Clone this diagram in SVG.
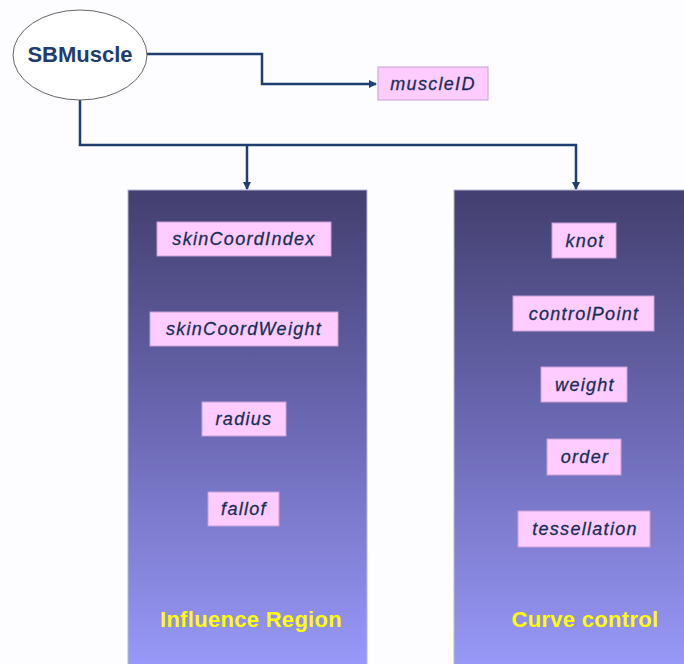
<svg xmlns="http://www.w3.org/2000/svg" width="684" height="664" viewBox="0 0 684 664">
<defs>
<linearGradient id="pg" x1="0" y1="0" x2="0" y2="1">
<stop offset="0" stop-color="#433f6f"/>
<stop offset="0.45" stop-color="#6765ad"/>
<stop offset="1" stop-color="#9999fa"/>
</linearGradient>
<marker id="arr" markerWidth="8" markerHeight="8" refX="7" refY="4" orient="auto" markerUnits="userSpaceOnUse">
<path d="M0,0 L8,4 L0,8 Z" fill="#1f3d6e"/>
</marker>
</defs>
<style>
.panel{fill:url(#pg);stroke:#b8b8d8;stroke-width:1}
.box{fill:#ffccff;stroke:#c8a0d8;stroke-width:1}
.lbl{font-family:"Liberation Sans",Arial,sans-serif;font-size:18px;font-style:italic;fill:#172f5a;stroke:#172f5a;stroke-width:0.3;text-anchor:middle;letter-spacing:1.3px}
.title{font-family:"Liberation Sans",Arial,sans-serif;font-size:22px;font-weight:bold;fill:#ffff00;text-anchor:middle;letter-spacing:0.3px}
.conn{fill:none;stroke:#1f3d6e;stroke-width:2.5}
</style>
<rect width="684" height="664" fill="#fdfdff"/>
<g id="influence-region">
<rect class="panel" x="128" y="190" width="239" height="480"/>
<text class="title" x="251" y="627">Influence Region</text>
</g>
<g id="curve-control">
<rect class="panel" x="454" y="190" width="240" height="480"/>
<text class="title" x="585" y="627">Curve control</text>
</g>
<g id="connectors">
<path class="conn" d="M147,54 H262 V84 H376" marker-end="url(#arr)"/>
<path class="conn" d="M80,99 V145 H576 V189" marker-end="url(#arr)"/>
<path class="conn" d="M247,145 V189" marker-end="url(#arr)"/>
</g>
<g id="sbmuscle">
<ellipse cx="80" cy="55" rx="67" ry="45" fill="#ffffff" stroke="#666" stroke-width="1"/>
<text x="80" y="62" font-family="'Liberation Sans',Arial,sans-serif" font-size="22" font-weight="bold" fill="#1f3d6e" text-anchor="middle">SBMuscle</text>
</g>
<g id="muscleID">
<rect class="box" x="378" y="67" width="110" height="33"/>
<text class="lbl" x="433" y="90">muscleID</text>
</g>
<g id="skinCoordIndex">
<rect class="box" x="157" y="222" width="174" height="34"/>
<text class="lbl" x="244" y="245">skinCoordIndex</text>
</g>
<g id="skinCoordWeight">
<rect class="box" x="150" y="312" width="188" height="34"/>
<text class="lbl" x="244" y="335">skinCoordWeight</text>
</g>
<g id="radius">
<rect class="box" x="202" y="402" width="84" height="34"/>
<text class="lbl" x="244" y="425">radius</text>
</g>
<g id="fallof">
<rect class="box" x="208" y="492" width="71" height="34"/>
<text class="lbl" x="244" y="515">fallof</text>
</g>
<g id="knot">
<rect class="box" x="552" y="223" width="64" height="35"/>
<text class="lbl" x="585" y="247">knot</text>
</g>
<g id="controlPoint">
<rect class="box" x="513" y="296" width="141" height="35"/>
<text class="lbl" x="584" y="320">controlPoint</text>
</g>
<g id="weight">
<rect class="box" x="541" y="367" width="86" height="35"/>
<text class="lbl" x="585" y="391">weight</text>
</g>
<g id="order">
<rect class="box" x="547" y="439" width="74" height="36"/>
<text class="lbl" x="585" y="463">order</text>
</g>
<g id="tessellation">
<rect class="box" x="518" y="511" width="132" height="36"/>
<text class="lbl" x="585" y="535">tessellation</text>
</g>
</svg>
